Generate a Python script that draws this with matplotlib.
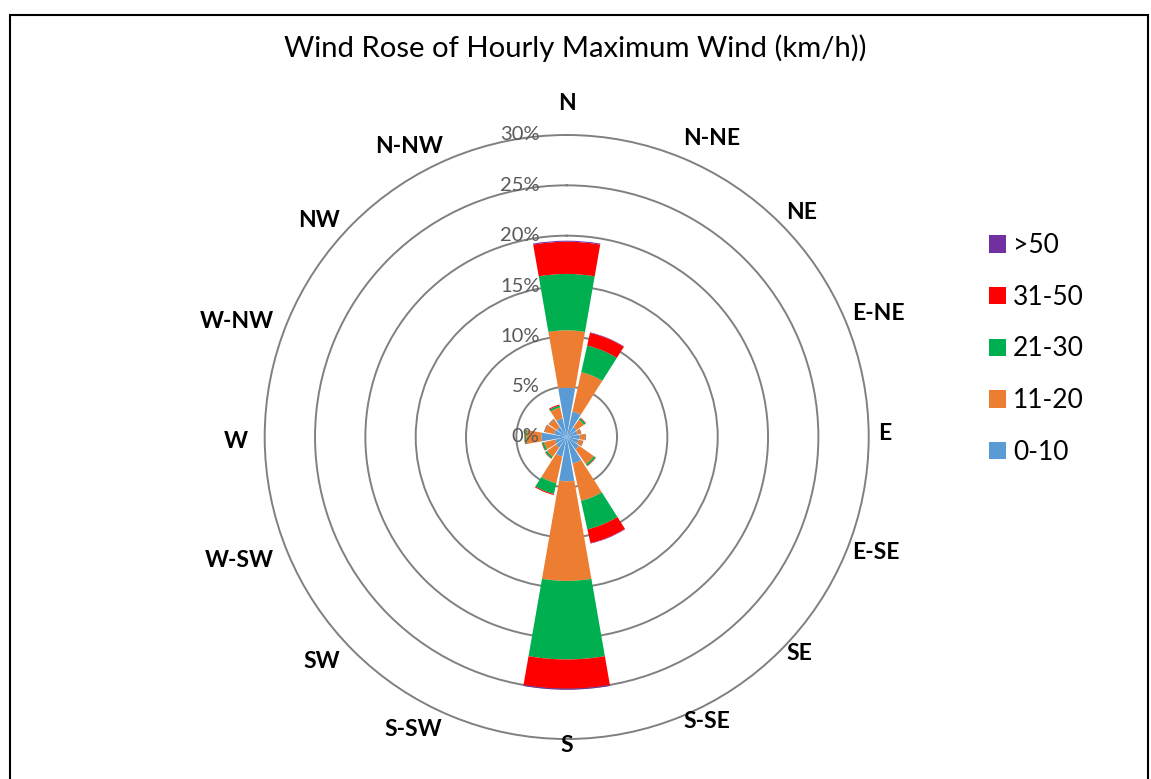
import numpy as np
import matplotlib
matplotlib.use("Agg")
import matplotlib.pyplot as plt
from matplotlib.patches import Patch, Rectangle

plt.rcParams['font.family'] = ['Lato', 'DejaVu Sans']

# directions, clockwise from north
directions = ['N', 'N-NE', 'NE', 'E-NE', 'E', 'E-SE', 'SE', 'S-SE',
              'S', 'S-SW', 'SW', 'W-SW', 'W', 'W-NW', 'NW', 'N-NW']

# share of hours (%) per speed class (km/h)
spd_0_10 = [4.9, 2.6, 1.2, 1.1, 1.3, 1.2, 1.5, 2.7, 4.4, 2.0, 1.3, 1.2, 2.5, 1.3, 1.2, 1.9]
spd_11_20 = [5.7, 4.0, 0.9, 0.3, 0.5, 0.4, 1.8, 3.8, 9.9, 2.7, 1.1, 1.1, 1.5, 0.9, 0.9, 1.1]
spd_21_30 = [5.6, 2.7, 0.2, 0.05, 0.05, 0.05, 0.2, 2.9, 7.8, 1.1, 0.2, 0.2, 0.15, 0.05, 0.05, 0.2]
spd_31_50 = [3.2, 1.3, 0.05, 0.05, 0.05, 0.05, 0.05, 1.4, 2.9, 0.1, 0.05, 0.05, 0.05, 0.05, 0.05, 0.1]
spd_50_up = [0.1, 0.05, 0, 0, 0, 0, 0, 0.05, 0.1, 0, 0, 0, 0, 0, 0, 0]

classes = ['0-10', '11-20', '21-30', '31-50', '>50']
series = [spd_0_10, spd_11_20, spd_21_30, spd_31_50, spd_50_up]
colors = ['#5B9BD5', '#ED7D31', '#00B050', '#FF0000', '#7030A0']

rings = [0, 5, 10, 15, 20, 25, 30]

W, H = 1151, 779
fig = plt.figure(figsize=(W / 100, H / 100), dpi=100)

# chart border (no bottom edge visible)
fig.patches.append(Rectangle((10 / W, -0.05), 1138 / W, 1.05 - 15 / H,
                             transform=fig.transFigure, fill=False,
                             edgecolor='black', linewidth=1.5))

R = 302  # px for 30%
cx, cy = 566.7, H - 437
ax = fig.add_axes([(cx - R) / W, (cy - R) / H, 2 * R / W, 2 * R / H],
                  projection='polar')
ax.set_theta_zero_location('N')
ax.set_theta_direction(-1)

theta = np.arange(len(directions)) * 2 * np.pi / len(directions)
bottom = np.zeros(len(directions))
for vals, col, lab in zip(series, colors, classes):
    vals = np.array(vals)
    ax.bar(theta, vals, width=0.345, bottom=bottom, color=col,
           edgecolor='none', label=lab, zorder=2)
    bottom += vals

ax.set_ylim(0, 30)
ax.set_yticks(rings[1:-1])
ax.set_yticklabels([])
ax.set_xticks(theta)
ax.set_xticklabels([])
ax.xaxis.grid(False)
ax.yaxis.grid(True, color='#808080', linewidth=1.4)
ax.tick_params(length=0)
ax.spines['polar'].set_color('#808080')
ax.spines['polar'].set_linewidth(1.4)
ax.set_axisbelow(True)

# radial labels, in front of the bars
for r in rings:
    ax.annotate(f'{r}%', xy=(0, r), xytext=(-27, 0), textcoords='offset pixels',
                ha='right', va='center', fontsize=14.5, color='#595959',
                zorder=5, annotation_clip=False)

# direction labels around the ring (offsets in pixels from the centre)
dir_texts = []
for t, lab in zip(theta, directions):
    a = ax.annotate(lab, xy=(0, 0), xytext=(0, 0), textcoords='offset pixels',
                    ha='center', va='center', fontsize=16.5, fontweight='bold',
                    color='black', annotation_clip=False)
    dir_texts.append(a)

fig.canvas.draw()
rend = fig.canvas.get_renderer()
for t, a in zip(theta, dir_texts):
    w = a.get_window_extent(rend).width
    s, c = np.sin(t), np.cos(t)
    push = 0
    if abs(s) > 0.2:
        push = np.sign(s) * 0.45 * w - (8 if s < 0 else 0)
    lift = 4 + 17 * max(c, 0) ** 12 - (8 if s < -0.2 else 0)
    a.xyann = (312 * s + push, 312 * c + lift)

fig.text(575 / W, 1 - 48 / H, 'Wind Rose of Hourly Maximum Wind (km/h))',
         ha='center', va='center', fontsize=21.1, color='black')

handles = [Patch(facecolor=c, edgecolor='none') for c in colors][::-1]
fig.legend(handles, classes[::-1], loc='upper left',
           bbox_to_anchor=(976 / W, 1 - 220 / H), frameon=False,
           fontsize=19, handlelength=0.64, handleheight=0.64,
           handletextpad=0.27, labelspacing=1.01, borderpad=0)

fig.savefig('out.png', dpi=100)
